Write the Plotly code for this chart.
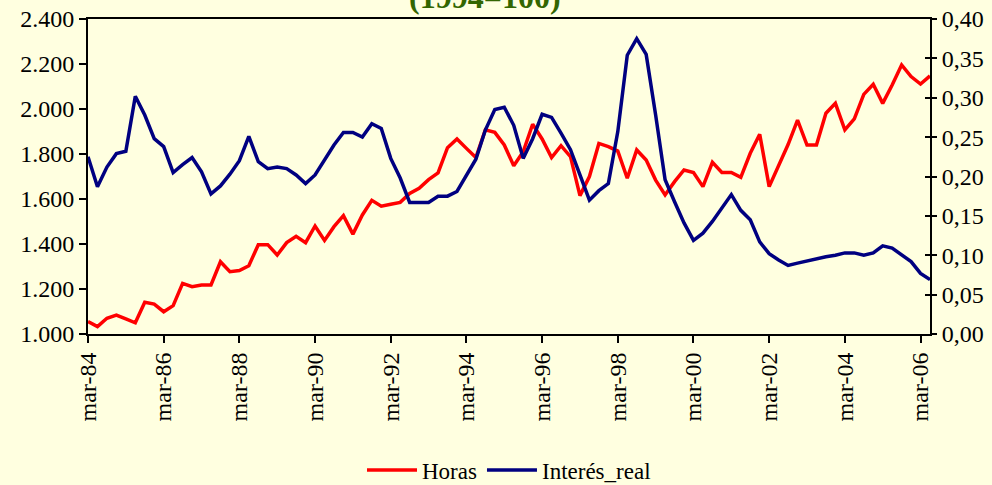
import plotly.graph_objects as go

years = list(range(1984, 2007))
months = ["mar", "jun", "sep", "dic"]
quarters = [f"{m}-{str(y)[2:]}" for y in years for m in months][:90]

horas = [
    1055, 1033, 1070, 1084, 1067, 1050, 1141, 1133, 1099, 1126,
    1225, 1210, 1218, 1218, 1321, 1277, 1282, 1303, 1397, 1397,
    1351, 1406, 1434, 1406, 1480, 1416, 1477, 1526, 1444, 1529,
    1594, 1568, 1577, 1585, 1625, 1648, 1686, 1716, 1828, 1867,
    1825, 1784, 1907, 1896, 1840, 1748, 1810, 1932, 1867, 1784,
    1837, 1788, 1615, 1700, 1847, 1833, 1813, 1692, 1818, 1773,
    1684, 1618, 1677, 1729, 1718, 1655, 1763, 1718, 1718, 1696,
    1803, 1888, 1655, 1744, 1842, 1951, 1840, 1840, 1981, 2025,
    1907, 1956, 2065, 2110, 2025, 2107, 2196, 2144, 2111, 2147,
]

interes_real = [
    0.225, 0.187, 0.212, 0.229, 0.232, 0.302, 0.278, 0.248, 0.238, 0.205,
    0.215, 0.224, 0.206, 0.178, 0.188, 0.203, 0.220, 0.251, 0.219, 0.210,
    0.212, 0.210, 0.202, 0.191, 0.202, 0.222, 0.240, 0.256, 0.256, 0.250,
    0.267, 0.261, 0.223, 0.198, 0.167, 0.167, 0.167, 0.175, 0.175, 0.181,
    0.202, 0.222, 0.259, 0.285, 0.288, 0.265, 0.223, 0.248, 0.279, 0.275,
    0.255, 0.234, 0.202, 0.170, 0.182, 0.191, 0.257, 0.354, 0.375, 0.355,
    0.278, 0.196, 0.168, 0.141, 0.119, 0.128, 0.143, 0.160, 0.177, 0.157,
    0.145, 0.117, 0.102, 0.094, 0.087, 0.090, 0.093, 0.095, 0.098, 0.100,
    0.103, 0.103, 0.100, 0.103, 0.112, 0.109, 0.100, 0.092, 0.077, 0.069,
]

left_ticks = [1000, 1200, 1400, 1600, 1800, 2000, 2200, 2400]
right_ticks = [0.0, 0.05, 0.10, 0.15, 0.20, 0.25, 0.30, 0.35, 0.40]
x_ticks = quarters[::8]

FONT = "Liberation Serif, Times New Roman, Times, serif"
BG = "#FFFFE0"

fig = go.Figure()
fig.add_trace(go.Scatter(x=quarters, y=horas, name="Horas", mode="lines",
                         line=dict(color="#FF0000", width=3.5), yaxis="y"))
fig.add_trace(go.Scatter(x=quarters, y=interes_real, name="Interés_real", mode="lines",
                         line=dict(color="#000080", width=3.5), yaxis="y2"))
# invisible copy to anchor the inner tick marks of the right axis
fig.add_trace(go.Scatter(x=quarters, y=interes_real, mode="lines", showlegend=False,
                         line=dict(color="rgba(0,0,0,0)", width=0), hoverinfo="skip",
                         yaxis="y3"))

fig.update_layout(
    template="none",
    width=992, height=485,
    margin=dict(l=88, r=62, t=19, b=151, autoexpand=False),
    paper_bgcolor=BG, plot_bgcolor=BG,
    separators=",.",
    font=dict(family=FONT, size=23, color="#000000"),
    showlegend=True,
    legend=dict(orientation="h", x=0.5, xanchor="center", y=1 - (470 - 19) / 315,
                yanchor="middle",
                font=dict(family=FONT, size=23), bgcolor="rgba(0,0,0,0)",
                itemwidth=50, traceorder="normal"),
    xaxis=dict(type="category", range=[0, len(quarters) - 1], automargin=False,
               tickmode="array", tickvals=x_ticks, ticktext=x_ticks,
               tickangle=-90, ticks="outside", ticklen=7, tickwidth=2, tickcolor="#000",
               showline=True, linecolor="#000", linewidth=2, mirror=True,
               showgrid=False, zeroline=False, tickfont=dict(family=FONT, size=24)),
    yaxis=dict(range=[1000, 2400], tickvals=left_ticks, tickformat=",d", automargin=False,
               ticks="outside", ticklen=7, tickwidth=2, tickcolor="#000",
               showline=True, linecolor="#000", linewidth=2,
               showgrid=False, zeroline=False, tickfont=dict(family=FONT, size=24)),
    yaxis2=dict(range=[0, 0.40], tickvals=right_ticks, tickformat=".2f", automargin=False,
                overlaying="y", side="right", anchor="x",
                ticks="outside", ticklen=5, tickwidth=2, tickcolor="#000",
                showline=True, linecolor="#000", linewidth=2,
                showgrid=False, zeroline=False, tickfont=dict(family=FONT, size=24)),
    yaxis3=dict(range=[0, 0.40], tickvals=right_ticks, overlaying="y", side="right",
                anchor="x", ticks="inside", ticklen=5, tickwidth=2, tickcolor="#000",
                automargin=False,
                showticklabels=False, showline=False, showgrid=False, zeroline=False),
)

fig.add_annotation(text="<b>(1994=100)</b>", xref="paper", yref="paper",
                   x=(485 - 88) / 842, y=1 + (19 + 3) / 315, xanchor="center", yanchor="middle",
                   showarrow=False, font=dict(family=FONT, size=32, color="#336600"))

fig.write_html(
    "out.html",
    config={"displayModeBar": False},
    post_script="document.body.style.margin='0';document.documentElement.style.overflow='hidden';",
)
